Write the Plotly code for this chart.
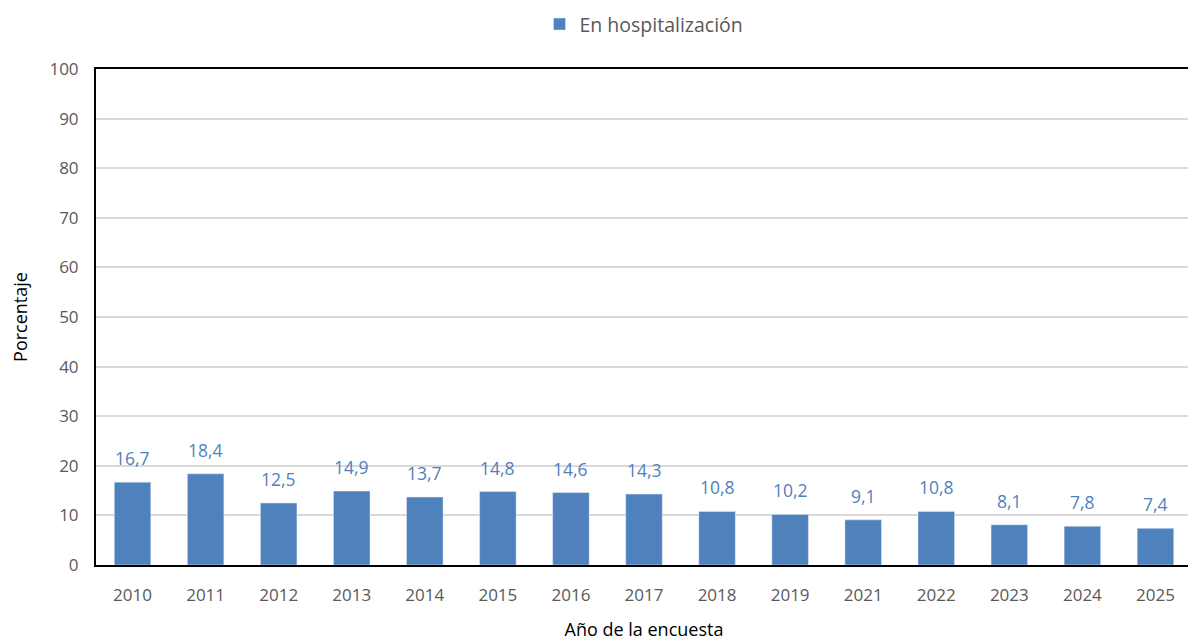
import plotly.graph_objects as go

years = ["2010", "2011", "2012", "2013", "2014", "2015", "2016", "2017",
         "2018", "2019", "2021", "2022", "2023", "2024", "2025"]
values = [16.7, 18.4, 12.5, 14.9, 13.7, 14.8, 14.6, 14.3,
          10.8, 10.2, 9.1, 10.8, 8.1, 7.8, 7.4]
labels = [f"{v:.1f}".replace(".", ",") for v in values]
y_ticks = [0, 10, 20, 30, 40, 50, 60, 70, 80, 90, 100]

BLUE = "#4F81BD"
GRAY = "#595959"
FONT = "Open Sans, Liberation Sans, sans-serif"

fig = go.Figure()
fig.add_trace(go.Bar(
    x=years, y=values, name="En hospitalización",
    marker=dict(color=BLUE),
    hoverinfo="x+y",
))

# data labels: category index positions on the category axis
for i, (v, lab) in enumerate(zip(values, labels)):
    fig.add_annotation(x=i, y=v, xref="x", yref="y", text=lab, showarrow=False,
                       yanchor="bottom", yshift=10,
                       font=dict(color=BLUE, size=17.5, family=FONT))

fig.update_layout(
    width=1188, height=633,
    margin=dict(l=88, r=4, t=61, b=76, autoexpand=False),
    paper_bgcolor="white", plot_bgcolor="white",
    bargap=0.5,
    font=dict(family=FONT, color=GRAY, size=16),
    showlegend=True,
    legend=dict(orientation="h", x=0.5, xanchor="center", y=1.09, yanchor="middle",
                yref="paper", font=dict(size=19.5, color=GRAY), itemwidth=30,
                bgcolor="rgba(0,0,0,0)"),
    xaxis=dict(
        type="category",
        title=dict(text="Año de la encuesta", font=dict(size=18, color="#000000"), standoff=18),
        showline=True, linecolor="black", linewidth=2, mirror=True,
        ticks="outside", ticklen=14, tickcolor="rgba(0,0,0,0)",
        tickfont=dict(size=17, color=GRAY), automargin=False,
    ),
    yaxis=dict(
        title=dict(text="Porcentaje", font=dict(size=18, color="#000000"), standoff=22),
        range=[0, 100], tickvals=y_ticks,
        showline=True, linecolor="black", linewidth=2, mirror=True,
        showgrid=True, gridcolor="#D9D9D9", gridwidth=1.5,
        ticks="outside", ticklen=12, tickcolor="rgba(0,0,0,0)",
        tickfont=dict(size=17, color=GRAY), zeroline=False, automargin=False,
    ),
)

fig.write_html("out.html")
